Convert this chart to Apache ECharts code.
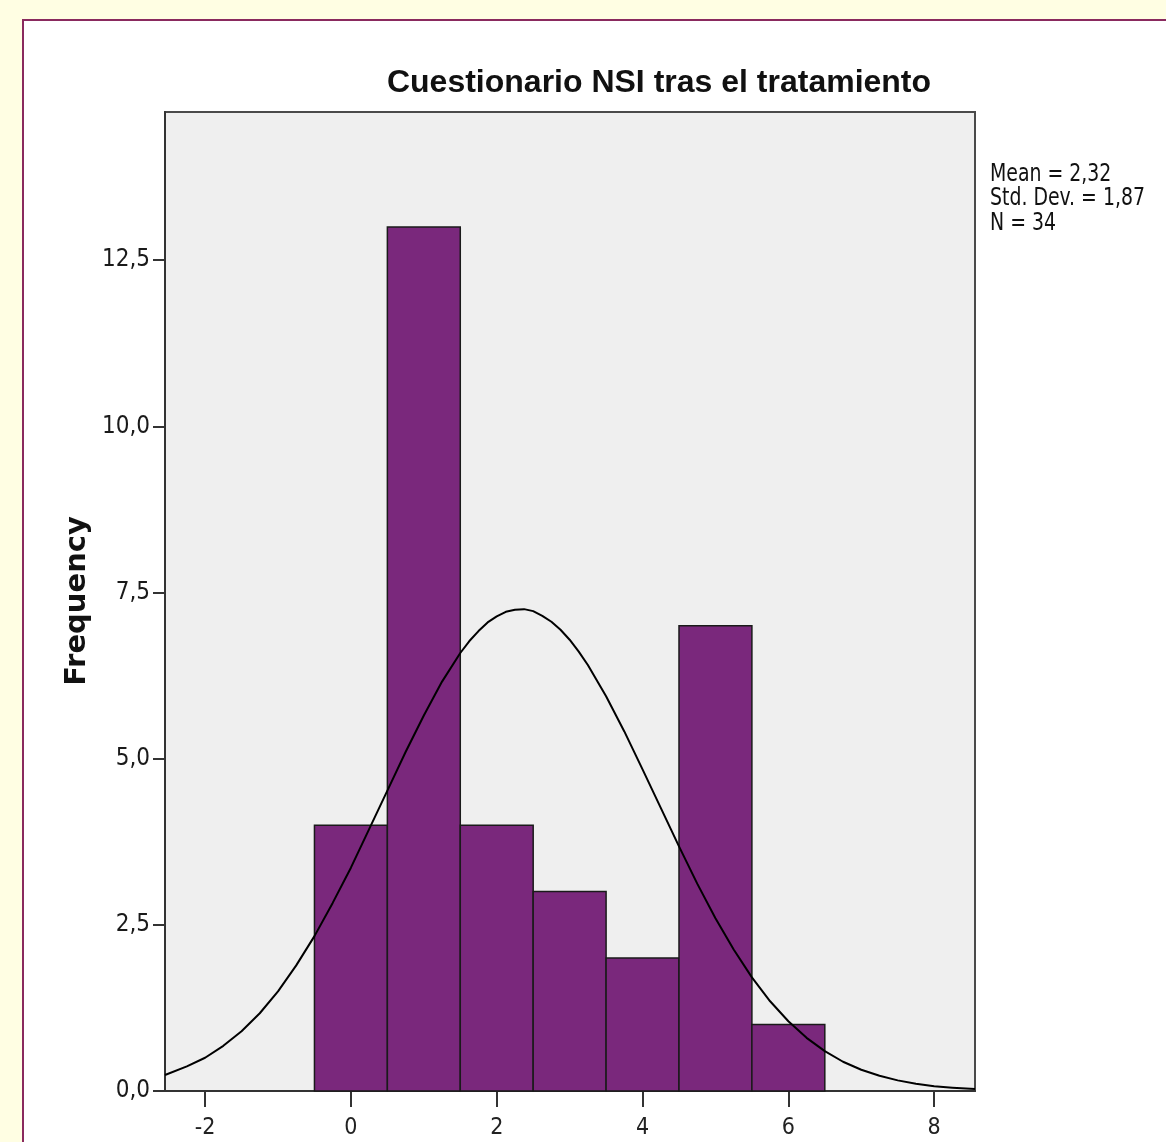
<!DOCTYPE html>
<html>
<head>
<meta charset="utf-8">
<script src="https://cdn.jsdelivr.net/npm/echarts@6/dist/echarts.min.js"></script>
<style>
  html, body { margin: 0; padding: 0; background: #fffee3; }
  #panel { position: absolute; left: 22px; top: 19px; width: 1200px; height: 1200px;
           background: #ffffff; border-left: 2px solid #8a2a5e; border-top: 2px solid #8a2a5e; }
  #chart { position: absolute; left: 0; top: 0; width: 1166px; height: 1142px; }
</style>
</head>
<body>
<div id="panel"></div>
<div id="chart"></div>
<script>
// Histogram bins (lower edge, upper edge) and frequencies
const binLow = [-0.5, 0.5, 1.5, 2.5, 3.5, 4.5, 5.5];
const binHigh = [0.5, 1.5, 2.5, 3.5, 4.5, 5.5, 6.5];
const frequency = [4, 13, 4, 3, 2, 7, 1];

// Normal curve, values
const curveX = [-2.55, -2.25, -2.0, -1.75, -1.5, -1.25, -1.0, -0.75, -0.5, -0.25, 0.0, 0.25, 0.5, 0.75, 1.0, 1.25, 1.5, 1.625, 1.75, 1.875, 2.0, 2.125, 2.25, 2.375, 2.5, 2.625, 2.75, 2.875, 3.0, 3.125, 3.25, 3.5, 3.75, 4.0, 4.25, 4.5, 4.75, 5.0, 5.25, 5.5, 5.75, 6.0, 6.25, 6.5, 6.75, 7.0, 7.25, 7.5, 7.75, 8.0, 8.25, 8.56];
const curveY = [0.24, 0.37, 0.50, 0.68, 0.90, 1.17, 1.50, 1.89, 2.33, 2.83, 3.36, 3.94, 4.52, 5.10, 5.65, 6.16, 6.59, 6.77, 6.92, 7.05, 7.14, 7.21, 7.24, 7.25, 7.22, 7.15, 7.06, 6.94, 6.79, 6.61, 6.41, 5.94, 5.41, 4.84, 4.26, 3.68, 3.12, 2.60, 2.13, 1.71, 1.35, 1.05, 0.80, 0.60, 0.44, 0.32, 0.23, 0.16, 0.11, 0.07, 0.05, 0.03];

// Axis ticks
const xTicks = [-2, 0, 2, 4, 6, 8];
const yTicks = [0, 2.5, 5, 7.5, 10, 12.5];

const titleText = 'Cuestionario NSI tras el tratamiento';
const statsLines = ['Mean = 2,32', 'Std. Dev. = 1,87', 'N = 34'];
const yAxisTitle = 'Frequency';

const barData = binLow.map((lo, i) => [lo, binHigh[i], frequency[i]]);
const lineData = curveX.map((x, i) => [x, curveY[i]]);

const narrow = "'Liberation Sans Narrow', 'DejaVu Sans Condensed', sans-serif";

const chart = echarts.init(document.getElementById('chart'), null, { renderer: 'canvas' });
chart.setOption({
  backgroundColor: 'transparent',
  animation: false,
  grid: { left: 165, top: 112, width: 810, height: 979, show: true,
          backgroundColor: '#efefef', borderColor: '#4a4a4a', borderWidth: 2 },
  xAxis: {
    type: 'value', min: -2.55, max: 8.56,
    splitLine: { show: false },
    axisLine: { show: true, onZero: false, lineStyle: { color: '#333', width: 2 } },
    axisTick: { show: true, customValues: xTicks, length: 16, lineStyle: { color: '#333', width: 2 } },
    axisLabel: { customValues: xTicks, margin: 26, color: '#222', fontFamily: narrow, fontSize: 23,
                 formatter: v => String(v) }
  },
  yAxis: {
    type: 'value', min: 0, max: 14.73,
    splitLine: { show: false },
    axisLine: { show: true, onZero: false, lineStyle: { color: '#333', width: 2 } },
    axisTick: { show: true, customValues: yTicks, length: 12, lineStyle: { color: '#333', width: 2 } },
    axisLabel: { customValues: yTicks, margin: 15, color: '#1a1a1a', fontFamily: narrow, fontSize: 24,
                 formatter: v => v.toFixed(1).replace('.', ',') }
  },
  graphic: [
    { type: 'text', x: 659, y: 83, style: { text: titleText, textAlign: 'center', textVerticalAlign: 'middle',
      font: "bold 32px 'Liberation Sans', Arial, sans-serif", fill: '#111' } },
    { type: 'text', x: 990, y: 163, scaleY: 1.15, style: { text: statsLines.join('\n'), textAlign: 'left', textVerticalAlign: 'top',
      font: "21px " + narrow, lineHeight: 21, fill: '#111' } },
    { type: 'text', x: 77, y: 601, rotation: Math.PI / 2, style: { text: yAxisTitle, textAlign: 'center', textVerticalAlign: 'middle',
      font: "bold 29px 'DejaVu Sans', sans-serif", fill: '#111' } }
  ],
  series: [
    {
      type: 'custom',
      data: barData,
      encode: { x: [0, 1], y: 2 },
      z: 2,
      renderItem: function (params, api) {
        const p0 = api.coord([api.value(0), 0]);
        const p1 = api.coord([api.value(1), api.value(2)]);
        return { type: 'rect',
          shape: { x: p0[0], y: p1[1], width: p1[0] - p0[0], height: p0[1] - p1[1] },
          style: { fill: '#7a287c', stroke: '#1a1a1a', lineWidth: 1.5 } };
      }
    },
    {
      type: 'line', data: lineData, smooth: false, symbol: 'none', z: 5,
      lineStyle: { color: '#000', width: 2, join: 'round' }
    }
  ]
});
</script>
</body>
</html>
